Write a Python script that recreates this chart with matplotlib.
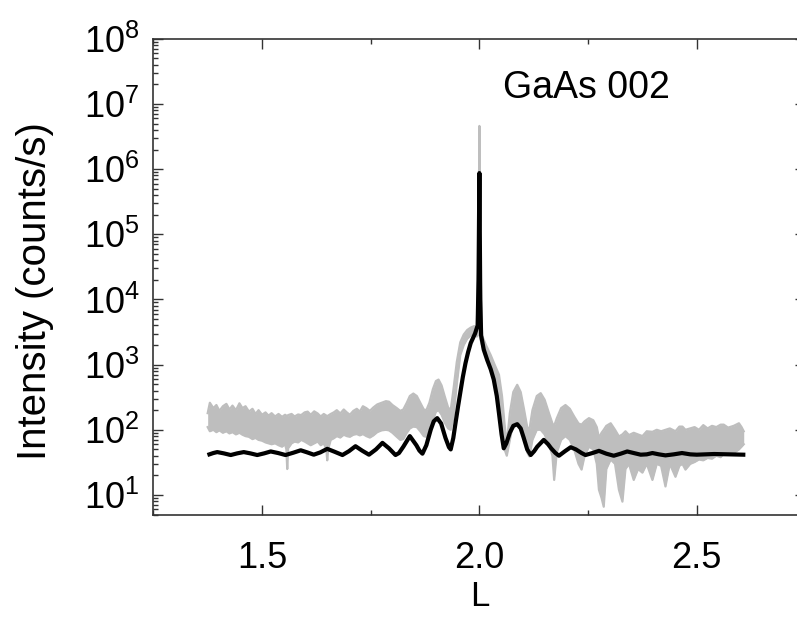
import math
import matplotlib
matplotlib.use('Agg')
import matplotlib.pyplot as plt
from matplotlib.ticker import LogLocator, FixedLocator, FuncFormatter, NullFormatter

plt.rcParams['font.family'] = ['Liberation Sans', 'DejaVu Sans']
plt.rcParams['mathtext.fontset'] = 'custom'
plt.rcParams['mathtext.rm'] = 'Liberation Sans'
plt.rcParams['mathtext.it'] = 'Liberation Sans:italic'

# measured data (grey band: upper / lower edge of the noisy scan)
gray_L = [1.375, 1.380, 1.388, 1.395, 1.402, 1.410, 1.418, 1.425, 1.432, 1.440,
          1.448, 1.455, 1.462, 1.470, 1.478, 1.485, 1.492, 1.500, 1.508, 1.515,
          1.522, 1.530, 1.538, 1.546, 1.553, 1.556, 1.558, 1.560, 1.568, 1.575,
          1.583, 1.590, 1.598, 1.605, 1.612, 1.620, 1.628, 1.635, 1.642, 1.648,
          1.650, 1.652, 1.658, 1.665, 1.672, 1.680, 1.688, 1.695, 1.702, 1.710,
          1.718, 1.725, 1.732, 1.740, 1.748, 1.756, 1.765, 1.775, 1.785, 1.792,
          1.800, 1.810, 1.818, 1.825, 1.833, 1.840, 1.848, 1.856, 1.864, 1.872,
          1.878, 1.885, 1.893, 1.900, 1.906, 1.913, 1.920, 1.928, 1.934, 1.940,
          1.948, 1.956, 1.964, 1.972, 1.980, 1.988, 1.994, 1.998, 2.000, 2.002,
          2.006, 2.015, 2.026, 2.035, 2.045, 2.052, 2.058, 2.063, 2.070, 2.078,
          2.087, 2.095, 2.103, 2.110, 2.115, 2.122, 2.132, 2.141, 2.150, 2.160,
          2.168, 2.172, 2.178, 2.188, 2.198, 2.208, 2.218, 2.228, 2.235, 2.242,
          2.252, 2.262, 2.270, 2.275, 2.281, 2.286, 2.292, 2.302, 2.312, 2.321,
          2.329, 2.336, 2.344, 2.355, 2.365, 2.375, 2.385, 2.398, 2.408, 2.418,
          2.428, 2.438, 2.451, 2.460, 2.467, 2.474, 2.485, 2.495, 2.505, 2.515,
          2.525, 2.535, 2.545, 2.555, 2.562, 2.572, 2.585, 2.597, 2.603, 2.608]
gray_hi = [180, 260, 215, 240, 195, 230, 250, 205, 235, 200,
           255, 215, 230, 190, 210, 175, 200, 170, 185, 165,
           180, 160, 175, 158, 170, 165, 160, 168, 175, 160,
           172, 168, 185, 190, 170, 192, 178, 160, 175, 165,
           160, 165, 175, 185, 200, 178, 205, 185, 170, 195,
           210, 190, 230, 215, 195, 220, 245, 260, 275, 270,
           240, 215, 195, 205, 260, 330, 360, 330, 260, 205,
           200, 260, 420, 560, 590, 480, 330, 220, 200, 400,
           1100, 2200, 2900, 3400, 3700, 3900, 3500, 50000, 4600000, 50000,
           2800, 2000, 1400, 1000, 700, 330, 120, 60, 180, 380,
           490, 380, 200, 110, 100, 200, 330, 365, 290, 180,
           125, 115, 150, 215, 240, 210, 160, 125, 120, 135,
           151, 140, 110, 75, 90, 100, 115, 126, 100, 79,
           85, 95, 83, 90, 85, 80, 95, 93, 100, 95,
           100, 105, 95, 112, 112, 100, 105, 110, 100, 118,
           105, 115, 110, 120, 120, 108, 115, 126, 110, 95]
gray_lo = [110, 95, 100, 92, 98, 90, 95, 88, 92, 85,
           90, 84, 80, 78, 72, 75, 70, 68, 64, 62,
           60, 62, 58, 55, 60, 50, 25, 52, 62, 66,
           64, 70, 66, 62, 58, 62, 66, 58, 62, 50,
           34, 50, 70, 74, 80, 76, 84, 80, 78, 84,
           86, 82, 86, 80, 76, 82, 92, 98, 100, 98,
           90, 78, 70, 72, 90, 105, 112, 110, 95, 80,
           78, 95, 140, 190, 200, 170, 130, 105, 100, 150,
           500, 1400, 2000, 2500, 2800, 3000, 2700, 3000, 3000, 2500,
           2000, 1300, 900, 600, 300, 130, 50, 40, 70, 130,
           130, 110, 70, 45, 39, 70, 100, 100, 85, 60,
           40, 17, 45, 70, 80, 70, 50, 30, 24.5, 40,
           55, 50, 30, 12, 9, 6.6, 25, 35, 30, 12,
           7.9, 25, 30, 17, 25, 22, 30, 17, 30, 28,
           13.5, 30, 19, 28, 30, 24.5, 30, 32, 35, 34,
           37, 36, 40, 38, 43, 42, 44, 50, 55, 60]

# fit (black curve)
fit_L = [1.379, 1.388, 1.397, 1.412, 1.428, 1.443, 1.458, 1.473, 1.489, 1.505,
         1.520, 1.537, 1.554, 1.572, 1.589, 1.604, 1.619, 1.634, 1.650, 1.667,
         1.685, 1.700, 1.715, 1.730, 1.746, 1.762, 1.777, 1.792, 1.807, 1.815,
         1.825, 1.840, 1.855, 1.862, 1.869, 1.878, 1.888, 1.895, 1.903, 1.912,
         1.922, 1.930, 1.934, 1.940, 1.945, 1.951, 1.957, 1.962, 1.968, 1.974,
         1.980, 1.990, 1.996, 1.998, 2.000, 2.002, 2.004, 2.010, 2.018, 2.026,
         2.033, 2.040, 2.045, 2.051, 2.056, 2.062, 2.070, 2.078, 2.087, 2.095,
         2.102, 2.110, 2.118, 2.126, 2.133, 2.148, 2.158, 2.165, 2.175, 2.183,
         2.197, 2.210, 2.222, 2.235, 2.244, 2.260, 2.275, 2.292, 2.309, 2.325,
         2.340, 2.355, 2.371, 2.385, 2.398, 2.413, 2.428, 2.447, 2.466, 2.485,
         2.500, 2.540, 2.607]
fit_I = [42, 44, 45.5, 43.5, 41, 43.5, 45.5, 43.5, 41, 43.5,
         46.5, 44, 41, 44.5, 48.5, 45, 41.5, 45, 51, 46,
         41, 47, 56, 48, 41.5, 50, 63, 52, 41, 44,
         55, 80, 58, 48, 43, 58, 100, 135, 151, 125,
         75, 54, 50, 75, 126, 230, 407, 650, 1050, 1550,
         2140, 3000, 4000, 20000, 870000, 10000, 2800, 1700, 1175, 850,
         590, 330, 180, 85, 52, 62, 90, 115, 122, 105,
         75, 50, 41, 47, 55, 70, 60, 52, 44, 40,
         47, 54, 50, 44, 41, 44, 47.5, 43, 40, 43,
         46.5, 44, 41.5, 42, 44, 42, 40.5, 42, 44, 42,
         41.5, 42.5, 41.5]

x_ticks = [1.5, 2.0, 2.5]
x_tick_labels = ['1.5', '2.0', '2.5']
y_decades = [1e1, 1e2, 1e3, 1e4, 1e5, 1e6, 1e7, 1e8]

fig = plt.figure(figsize=(7.97, 6.17), dpi=100)
ax = fig.add_axes([0.1924, 0.166, 0.8182, 0.7711])

gray = '#bebebe'
ax.fill_between(gray_L, gray_lo, gray_hi, color=gray, lw=0)
ax.plot(gray_L, gray_hi, color=gray, lw=1.6)
ax.plot(gray_L, gray_lo, color=gray, lw=1.6)
ax.plot(fit_L, fit_I, color='black', lw=3, solid_joinstyle='round')

ax.set_yscale('log')
ax.set_xlim(1.25, 2.75)
ax.set_ylim(5, 1e8)

ax.xaxis.set_major_locator(FixedLocator(x_ticks))
ax.set_xticklabels(x_tick_labels)
ax.xaxis.set_minor_locator(FixedLocator([1.25, 1.75, 2.25, 2.75]))
ax.yaxis.set_major_locator(FixedLocator(y_decades))
ax.yaxis.set_major_formatter(FuncFormatter(lambda v, p: r'$\mathregular{10^{%d}}$' % round(math.log10(v))))
ax.yaxis.set_minor_locator(LogLocator(base=10, subs=range(2, 10), numticks=20))
ax.yaxis.set_minor_formatter(NullFormatter())

ax.tick_params(which='both', direction='in', top=True, right=True, width=1.0, colors='#333333', labelcolor='black')
ax.tick_params(which='major', length=7)
ax.tick_params(which='minor', length=3.5)
ax.tick_params(axis='x', labelsize=26, pad=19)
ax.tick_params(axis='y', labelsize=26, pad=10)
for s in ax.spines.values():
    s.set_linewidth(1.2)
    s.set_color('#333333')

ax.set_xlabel('L', fontsize=25, va='center')
ax.xaxis.set_label_coords(0.5, -0.172)
ax.set_ylabel('Intensity (counts/s)', fontsize=29, va='center')
ax.yaxis.set_label_coords(-0.181, 0.47)
ax.text(0.664, 0.875, 'GaAs 002', transform=ax.transAxes, fontsize=27,
        ha='center', va='baseline')

fig.savefig('out.png', dpi=100)
